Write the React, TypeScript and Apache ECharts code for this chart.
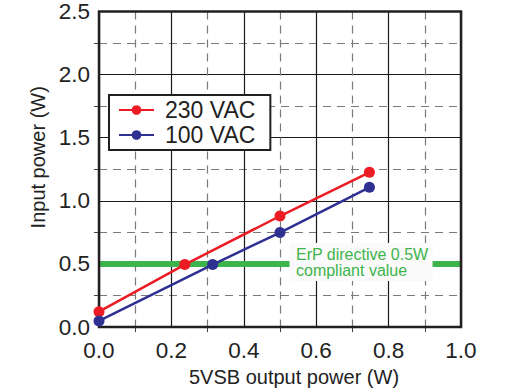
import React, { useEffect, useRef } from "react";
import * as echarts from "echarts";

const xOutput230 = [0, 0.237, 0.5, 0.747];
const yInput230 = [0.122, 0.495, 0.88, 1.226];
const xOutput100 = [0, 0.314, 0.5, 0.747];
const yInput100 = [0.049, 0.495, 0.749, 1.107];
const erpLimit = 0.5;
const erpLabelX = 0.5276;
const erpLabelXEnd = 0.92;
const seriesNames = ["230 VAC", "100 VAC"];
const erpText = "ErP directive 0.5W\ncompliant value";

const FONT = "'Liberation Sans', Arial, sans-serif";
const GREEN = "#3cb44b";

export default function App() {
  const ref = useRef<HTMLDivElement>(null);
  useEffect(() => {
    const chart = echarts.init(ref.current!, null, { renderer: "svg" });
    const pts = (xs: number[], ys: number[]) => xs.map((x, i) => [x, ys[i]]);
    const axisCommon = {
      axisLine: { show: false },
      axisTick: { show: false },
      splitLine: { show: true, lineStyle: { color: "#1a1a1a", width: 1.2 } },
      minorTick: { show: true, inside: true, splitNumber: 2, length: 5, lineStyle: { color: "#444" } },
      minorSplitLine: { show: true, lineStyle: { color: "#7a7a7a", type: [8, 6], width: 1.2 } },
      axisLabel: { color: "#222", fontSize: 22.5, fontFamily: FONT },
    };
    chart.setOption({
      animation: false,
      backgroundColor: "#fff",
      grid: {
        left: 99, right: 52, top: 10, bottom: 61,
        show: true, borderColor: "#231f20", borderWidth: 2.5, backgroundColor: "transparent", z: 3,
      },
      xAxis: {
        type: "value", min: 0, max: 1, interval: 0.2,
        ...axisCommon,
        axisLabel: { ...axisCommon.axisLabel, margin: 12, formatter: (v: number) => v.toFixed(1) },
        name: "5VSB output power (W)", nameLocation: "middle", nameGap: 36,
        nameTextStyle: { color: "#222", fontSize: 20, fontFamily: FONT, padding: [0, 0, 0, 28] },
      },
      yAxis: {
        type: "value", min: 0, max: 2.5, interval: 0.5,
        ...axisCommon,
        axisLabel: { ...axisCommon.axisLabel, margin: 9, formatter: (v: number) => v.toFixed(1) },
        name: "Input power (W)", nameLocation: "middle", nameGap: 45.5,
        nameTextStyle: { color: "#222", fontSize: 20, fontFamily: FONT, padding: [0, 0, 0, 24] },
      },
      legend: {
        orient: "vertical", left: 109, top: 95,
        data: seriesNames,
        itemWidth: 35, itemHeight: 12, itemGap: 0,
        padding: [2.5, 15, 2.5, 9],
        borderColor: "#231f20", borderWidth: 2, backgroundColor: "#fff",
        textStyle: { color: "#222", fontSize: 23, fontFamily: FONT, lineHeight: 25, padding: [0, 0, 0, 6] },
        z: 10,
      },
      series: [
        {
          name: "erpA", type: "line", data: [[0, erpLimit], [erpLabelX, erpLimit]],
          symbol: "none", lineStyle: { color: GREEN, width: 6 }, z: 2, silent: true,
        },
        {
          name: "erpB", type: "line", data: [[erpLabelXEnd, erpLimit], [1, erpLimit]],
          symbol: "none", lineStyle: { color: GREEN, width: 6 }, z: 2, silent: true,
        },
        {
          name: seriesNames[0], type: "line", data: pts(xOutput230, yInput230),
          color: "#ec1c24", symbol: "circle", symbolSize: 11,
          lineStyle: { width: 2.5, color: "#ec1c24" }, itemStyle: { color: "#ec1c24" }, z: 5,
        },
        {
          name: seriesNames[1], type: "line", data: pts(xOutput100, yInput100),
          color: "#2e3192", symbol: "circle", symbolSize: 11,
          lineStyle: { width: 2.5, color: "#2e3192" }, itemStyle: { color: "#2e3192" }, z: 5,
        },
      ],
    });
    const p0 = chart.convertToPixel({ gridIndex: 0 }, [erpLabelX, erpLimit]) as number[];
    const p1 = chart.convertToPixel({ gridIndex: 0 }, [erpLabelXEnd, erpLimit]) as number[];
    chart.setOption({
      graphic: {
        elements: [
          {
            type: "rect", z: 50,
            x: p0[0], y: p0[1] - 20.5,
            shape: { x: 0, y: 0, width: p1[0] - p0[0], height: 37 },
            style: { fill: "#fafafa", stroke: "#fafafa", lineWidth: 1 },
          },
          {
            type: "text", z: 51, x: p0[0] + 6, y: p0[1] - 1.5,
            style: {
              text: erpText, fill: GREEN, fontSize: 16, fontFamily: FONT,
              lineHeight: 15.5, align: "left", verticalAlign: "middle",
            },
          },
        ],
      },
    });
    return () => chart.dispose();
  }, []);
  return (
    <div
      ref={ref}
      style={{ position: "fixed", left: 0, top: 0, width: 513, height: 392 }}
    />
  );
}
